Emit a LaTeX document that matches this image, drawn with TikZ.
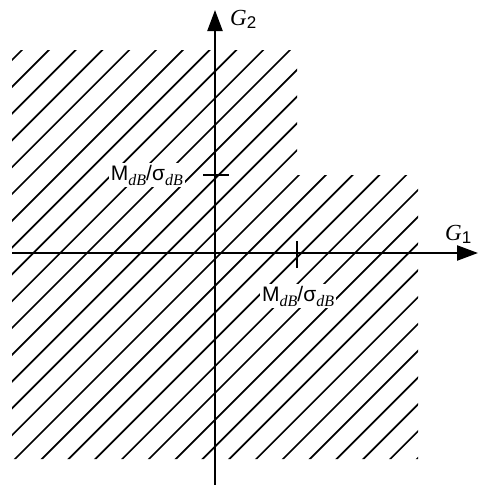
\documentclass[tikz,border=0pt]{standalone}
\usepackage{fontspec}
\setmainfont{Liberation Sans}
\newfontfamily\tserif{Liberation Serif}
\usetikzlibrary{arrows.meta}
\newcommand{\dbsub}{\raisebox{-5pt}{\fontsize{16}{17}\selectfont\tserif\itshape dB}}
\newcommand{\mlabel}{{\fontsize{21}{24}\selectfont M\dbsub/σ\dbsub}}
\tikzset{
  axis/.style={line width=2.3pt,-{Triangle[length=21pt,width=15pt]}},
  hatch/.style={line width=1.7pt},
  tick/.style={line width=1.8pt},
  lbl/.style={inner sep=0pt,font=\fontsize{21}{24}\selectfont},
  mlbl/.style={lbl,fill=white,inner sep=2pt}
}
\begin{document}
\begin{tikzpicture}[x=1pt,y=-1pt]
\useasboundingbox (0,0) rectangle (478,485);
% hatched L-shaped region
\begin{scope}
\clip (12,50) -- (297,50) -- (297,175) -- (418,175) -- (418,459) -- (12,459) -- cycle;
\foreach \k in {0,...,30}{
  \pgfmathsetmacro{\c}{72+\k*26.8}
  \draw[hatch] (\c-480,480) -- (\c,0);
}
\end{scope}
% axes
\coordinate (xstart) at (12,253);
\coordinate (xend) at (478,253);
\coordinate (ystart) at (215,485);
\coordinate (yend) at (215,10);
\draw[axis] (xstart) -- (xend);
\draw[axis] (ystart) -- (yend);
% ticks
\coordinate (t2a) at (203,175);
\coordinate (t2b) at (229,175);
\coordinate (t1a) at (297,241);
\coordinate (t1b) at (297,268);
\draw[tick] (t2a) -- (t2b);
\draw[tick] (t1a) -- (t1b);
% labels
\node[mlbl,anchor=base east] (m2) at (185,180) {\mlabel};
\node[mlbl,anchor=base west] (m1) at (260,301) {\mlabel};
\node[lbl,anchor=base west] (g1) at (445,240) {{\fontsize{23}{26}\selectfont\tserif\itshape G}\raisebox{-3pt}{\fontsize{17}{18}\selectfont 1}};
\node[lbl,anchor=base west] (g2) at (230,25) {{\fontsize{23}{26}\selectfont\tserif\itshape G}\raisebox{-3pt}{\fontsize{17}{18}\selectfont 2}};
\end{tikzpicture}
\end{document}
